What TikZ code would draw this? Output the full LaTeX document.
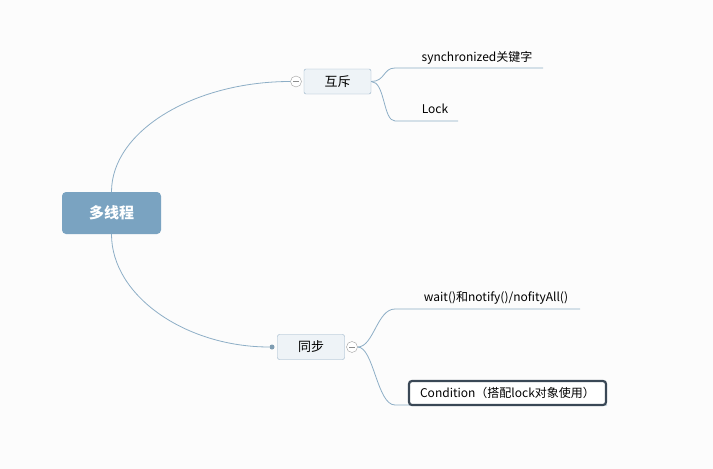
\documentclass[tikz,border=0pt]{standalone}
\usepackage{fontspec}
\setmainfont{Noto Sans CJK SC}
\usetikzlibrary{positioning}
\definecolor{rootblue}{HTML}{7AA3C1}
\definecolor{boxfill}{HTML}{EEF3F7}
\definecolor{boxline}{HTML}{93AFC5}
\definecolor{linkline}{HTML}{8DAEC6}
\definecolor{darkline}{HTML}{3A4856}
\definecolor{bggray}{HTML}{FCFCFC}
\begin{document}
\begin{tikzpicture}[x=1pt, y=-1pt,
	rootbox/.style={fill=rootblue, rounded corners=4pt, text=white, font=\fontsize{15}{18}\selectfont\bfseries, minimum width=99pt, minimum height=42pt, inner sep=0pt},
	topicbox/.style={draw=boxline, fill=boxfill, rounded corners=2pt, font=\fontsize{13}{15}\selectfont, minimum width=67pt, minimum height=25pt, inner sep=0pt},
	leaftext/.style={font=\fontsize{12}{14}\selectfont, anchor=base, inner sep=0pt},
	link/.style={draw=linkline, line width=0.8pt},
	foldmark/.style={circle, draw=gray!75, fill=white, minimum size=11pt, inner sep=0pt,
		path picture={\draw[gray!90] ([xshift=2.5pt]path picture bounding box.west) -- ([xshift=-2.5pt]path picture bounding box.east);}}
	]
	\useasboundingbox[fill=bggray] (0,0) rectangle (713,469);

	\node[rootbox] (root) at (111.5,213) {多线程};
	\node[topicbox] (mutex) at (337.5,81.5) {互斥};
	\node[topicbox] (sync) at (311,347) {同步};
	\node[foldmark] (mutexfold) at (296,81.5) {};
	\node[foldmark] (syncfold) at (352,347) {};
	\node[circle, fill=linkline!90!black, inner sep=0pt, minimum size=5pt] (syncdot) at (272,347) {};

	\draw[link] (root.north) .. controls +(0,-61) and +(-96,0) .. (mutexfold.west);
	\draw[link] (root.south) .. controls +(0,62) and +(-86,0) .. (syncdot);

	\node[leaftext] (synckw) at (477,61) {synchronized关键字};
	\node[leaftext] (lock) at (435,113) {Lock};
	\node[leaftext] (wait) at (496,301) {wait()和notify()/nofityAll()};

	\coordinate (synckw-a) at (395,68);
	\coordinate (synckw-b) at (543,68);
	\coordinate (lock-a) at (395,121);
	\coordinate (lock-b) at (458,121);
	\coordinate (wait-a) at (395,309);
	\coordinate (wait-b) at (580,309);
	\coordinate (cond-a) at (395,405);
	\coordinate (cond-b) at (607,405);

	\draw[link] (mutex.east) .. controls +(14,0) and +(-12,0) .. (synckw-a) -- (synckw-b);
	\draw[link] (mutex.east) .. controls +(14,0) and +(-12,0) .. (lock-a) -- (lock-b);
	\draw[link] (syncfold.east) .. controls +(16,0) and +(-18,0) .. (wait-a) -- (wait-b);
	\draw[link] (syncfold.east) .. controls +(16,0) and +(-18,0) .. (cond-a) -- (cond-b);

	\node[draw=darkline, line width=2.2pt, fill=white, rounded corners=3pt, minimum width=197pt, minimum height=24pt, inner sep=0pt, font=\fontsize{12}{14}\selectfont] (cond) at (507.5,393) {Condition（搭配lock对象使用）};
\end{tikzpicture}
\end{document}
